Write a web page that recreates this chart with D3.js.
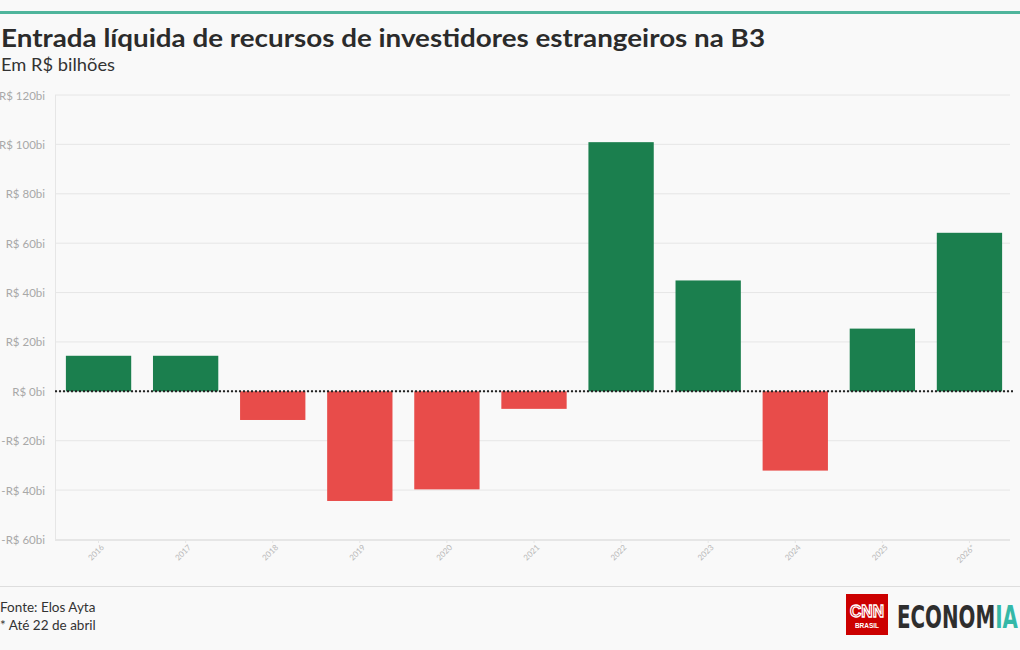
<!DOCTYPE html>
<html><head><meta charset="utf-8">
<script src="https://cdn.jsdelivr.net/npm/d3@7"></script>
<style>
html,body{margin:0;padding:0;background:#f9f9f9;}
svg{display:block;font-family:"Source Sans Pro","Lato","Noto Sans",sans-serif;}
</style></head>
<body><svg id="c" width="1020" height="650"></svg>
<script>
const categories = ["2016","2017","2018","2019","2020","2021","2022","2023","2024","2025","2026*"];
const values = [14.4, 14.4, -11.6, -44.4, -39.7, -7.1, 100.9, 44.9, -32.1, 25.4, 64.2];
const yTicks = [-60,-40,-20,0,20,40,60,80,100,120];
const title = "Entrada líquida de recursos de investidores estrangeiros na B3";
const subtitle = "Em R$ bilhões";
const notes = ["Fonte: Elos Ayta", "* Até 22 de abril"];

const svg = d3.select("#c");
svg.append("rect").attr("width",1020).attr("height",650).attr("fill","#f9f9f9");
svg.append("rect").attr("x",0).attr("y",11).attr("width",1020).attr("height",3).attr("fill","#4fb59c");

svg.append("text").attr("x",1).attr("y",47).attr("font-size",25).attr("font-weight",700)
  .attr("fill","#2b2b2b").attr("textLength",764).attr("lengthAdjust","spacingAndGlyphs").text(title);
svg.append("text").attr("x",1).attr("y",71).attr("font-size",17).attr("fill","#333")
  .attr("textLength",114).attr("lengthAdjust","spacingAndGlyphs").text(subtitle);

const x = d3.scaleBand().domain(categories).range([55,1013]).paddingInner(0.25).paddingOuter(0.125);
const y = d3.scaleLinear().domain([-60,120]).range([539.5,95]);

svg.append("g").selectAll("line").data(yTicks).join("line")
  .attr("x1",55).attr("x2",1010).attr("y1",d=>y(d)).attr("y2",d=>y(d))
  .attr("stroke","#e6e6e6").attr("stroke-width",1);
svg.append("line").attr("x1",55.5).attr("x2",55.5).attr("y1",95).attr("y2",540).attr("stroke","#e6e6e6");

const yAxis = d3.axisLeft(y).tickValues(yTicks).tickSize(0).tickPadding(0)
  .tickFormat(d => (d<0?"-":"") + "R$ " + Math.abs(d) + "bi");
const ya = svg.append("g").attr("transform","translate(45,0)").call(yAxis);
ya.select(".domain").remove();
ya.selectAll("text").attr("font-size",11.5).attr("fill","#a8a8a8").attr("font-family","Lato, sans-serif").attr("dy","0.35em");

svg.append("g").selectAll("rect").data(values).join("rect")
  .attr("x",(d,i)=>x(categories[i])).attr("width",x.bandwidth())
  .attr("y",d=>y(Math.max(0,d))).attr("height",d=>Math.abs(y(d)-y(0)))
  .attr("fill",d=>d>=0?"#1b7f4e":"#e84c4a");

svg.append("line").attr("x1",55).attr("x2",1013).attr("y1",y(0)).attr("y2",y(0))
  .attr("stroke","#222").attr("stroke-width",2).attr("stroke-dasharray","2,2");

const xAxis = d3.axisBottom(x).tickSize(3).tickPadding(4);
const xa = svg.append("g").attr("transform","translate(0,540)").call(xAxis);
xa.select(".domain").attr("stroke","#e6e6e6").attr("d","M55,0.5H1010");
xa.selectAll(".tick line").attr("stroke","#e6e6e6");
xa.selectAll("text").attr("font-size",8).attr("fill","#b8b8b8").attr("font-family","Lato, sans-serif")
  .attr("text-anchor","end").attr("transform","translate(4,6) rotate(-45)").attr("dy","0.35em").attr("dx",0).attr("y",0);

svg.append("line").attr("x1",0).attr("x2",1020).attr("y1",586.5).attr("y2",586.5).attr("stroke","#dedede");
svg.append("g").selectAll("text").data(notes).join("text")
  .attr("x",0).attr("y",(d,i)=>612+i*18).attr("font-size",13.5).attr("fill","#333").text(d=>d);

// logo
const lg = svg.append("g");
lg.append("rect").attr("x",846).attr("y",594).attr("width",42).attr("height",41).attr("fill","#cc0000");
lg.append("text").attr("x",867).attr("y",617).attr("text-anchor","middle").attr("font-size",17).attr("font-weight",700)
  .attr("fill","none").attr("stroke","#fff").attr("stroke-width",1.3).attr("font-family","Liberation Sans, sans-serif")
  .attr("textLength",34).attr("lengthAdjust","spacingAndGlyphs").text("CNN");
lg.append("text").attr("x",867).attr("y",628).attr("text-anchor","middle").attr("font-size",6.5).attr("font-weight",700)
  .attr("fill","#fff").attr("font-family","Liberation Sans, sans-serif").text("BRASIL");
const defs = svg.append("defs");
const gr = defs.append("linearGradient").attr("id","ia").attr("gradientUnits","userSpaceOnUse")
  .attr("x1",0).attr("y1",0).attr("y2",0);
const ecoG = lg.append("g");
const eco = ecoG.append("text").attr("x",0).attr("y",0).attr("font-size",32).attr("font-weight",700)
  .attr("font-family","DejaVu Sans, sans-serif")
  .attr("fill","url(#ia)").text("ECONOMIA");
const w0 = eco.node().getComputedTextLength();
const sx = 121 / w0;
ecoG.attr("transform", `translate(897,628) scale(${sx},1)`);
const iaStart = eco.node().getSubStringLength(0,6) / w0;
gr.attr("x2", w0);
gr.append("stop").attr("offset",iaStart).attr("stop-color","#2e2e2e");
gr.append("stop").attr("offset",iaStart).attr("stop-color","#35b8a8");
</script></body></html>
